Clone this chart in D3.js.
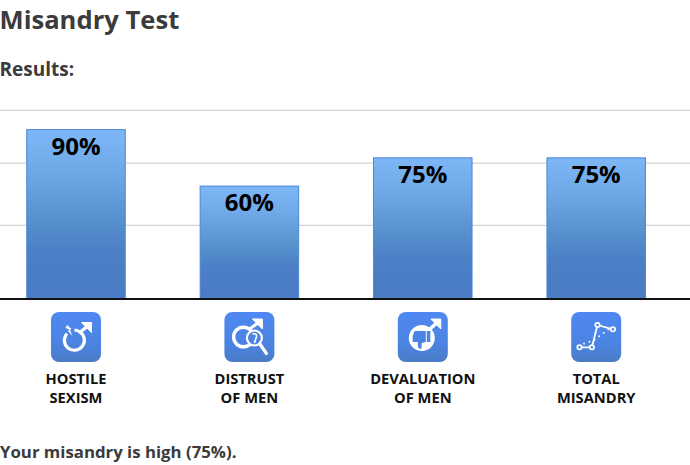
<!DOCTYPE html>
<html><head><meta charset="utf-8">
<script src="https://d3js.org/d3.v7.min.js"></script>
<style>html,body{margin:0;padding:0;background:#fff;overflow:hidden}svg{display:block}text{font-family:"Open Sans",sans-serif}</style>
</head><body><svg id="c" width="690" height="465"></svg>
<script>
const categories = ["hostile","distrust","devaluation","total"];
const values = [90,60,75,75];
const labelLine1 = ["HOSTILE","DISTRUST","DEVALUATION","TOTAL"];
const labelLine2 = ["SEXISM","OF MEN","OF MEN","MISANDRY"];
const gridValues = [100,72,39];
const titleText = "Misandry Test", subtitleText = "Results:", footerText = "Your misandry is high (75%).";

const svg = d3.select("#c");
const x = d3.scaleBand().domain(categories).range([-10.7,682.9]).paddingInner(0.432).paddingOuter(0.216);
const y = d3.scaleLinear().domain([0,100]).range([299,110.3]);
const yBar = d3.scaleLinear().domain([0,100]).range([299,110.8]);

const defs = svg.append("defs");
const g1 = defs.append("linearGradient").attr("id","bar").attr("x1",0).attr("y1",0).attr("x2",0).attr("y2",1);
[[0,"#7db7f7"],[.25,"#6fa8e6"],[.5,"#5a94cf"],[.72,"#4b7fc6"],[1,"#4a7bc4"]].forEach(s=>g1.append("stop").attr("offset",s[0]).attr("stop-color",s[1]));
const g2 = defs.append("linearGradient").attr("id","ico").attr("x1",0).attr("y1",0).attr("x2",0).attr("y2",1);
[[0,"#4f88f0"],[.6,"#4c84e4"],[1,"#4a7cc6"]].forEach(s=>g2.append("stop").attr("offset",s[0]).attr("stop-color",s[1]));

svg.append("text").attr("x",-0.5).attr("y",29).attr("font-size",25.6).attr("font-weight",700).attr("fill","#3b3b3b").text(titleText);
svg.append("text").attr("x",-0.5).attr("y",76).attr("font-size",19).attr("font-weight",700).attr("fill","#3b3b3b").text(subtitleText);
svg.append("text").attr("x",0).attr("y",458).attr("font-size",16.8).attr("font-weight",700).attr("fill","#3b3b3b").text(footerText);

svg.selectAll(".grid").data(gridValues).join("line").attr("class","grid")
  .attr("x1",0).attr("x2",690).attr("y1",d=>y(d)).attr("y2",d=>y(d))
  .attr("stroke","#d4d4d4").attr("stroke-width",1.2);

svg.selectAll(".bar").data(categories).join("rect").attr("class","bar")
  .attr("x",d=>x(d)).attr("width",x.bandwidth())
  .attr("y",(d,i)=>yBar(values[i])).attr("height",(d,i)=>yBar(0)-yBar(values[i]))
  .attr("fill","url(#bar)").attr("stroke","#4a86d8").attr("stroke-width",1);

svg.append("line").attr("x1",0).attr("x2",690).attr("y1",y(0)).attr("y2",y(0)).attr("stroke","#111").attr("stroke-width",2.2);

svg.selectAll(".val").data(categories).join("text").attr("class","val")
  .attr("x",d=>x(d)+x.bandwidth()/2).attr("y",(d,i)=>yBar(values[i])+25)
  .attr("text-anchor","middle").attr("font-size",24).attr("font-weight",700).attr("fill","#000")
  .text((d,i)=>values[i]+"%");

const cx = d=>x(d)+x.bandwidth()/2;
const icons = svg.selectAll(".icon").data(categories).join("g").attr("class","icon")
  .attr("transform",d=>`translate(${cx(d)},337)`);
icons.append("rect").attr("x",-25).attr("y",-25).attr("width",50).attr("height",50).attr("rx",8).attr("fill","url(#ico)");

function arrow(g,x0,y0,tx,ty,w){
  g.append("line").attr("x1",x0).attr("y1",y0).attr("x2",tx-3).attr("y2",ty+3).attr("stroke","#fff").attr("stroke-width",w);
  g.append("path").attr("d",`M${tx-10},${ty} H${tx} V${ty+10} Z`).attr("fill","#fff").attr("stroke","#fff").attr("stroke-width",1);
}
// hostile
{
  const g = icons.filter(d=>d==="hostile");
  g.append("path").attr("d","M-9,-3.5 A10,10 0 1 0 4,-5").attr("fill","none").attr("stroke","#fff").attr("stroke-width",3.2);
  g.append("path").attr("d","M-1.5,-7 A10,10 0 0 1 4,-5").attr("fill","none").attr("stroke","#fff").attr("stroke-width",3.2);
  arrow(g,3,-4,15.5,-14.5,3.4);
  g.append("path").attr("d","M-9,-12 L-4.5,-8 L-6,-7 L-3.5,-1 L-8,-6 L-6.5,-7.5 L-10.5,-9 Z").attr("fill","#fff");
}
// distrust
{
  const g = icons.filter(d=>d==="distrust");
  g.append("circle").attr("cx",-6).attr("cy",0).attr("r",9.8).attr("fill","none").attr("stroke","#fff").attr("stroke-width",3.4);
  arrow(g,0,-8,13,-18,3.2);
  g.append("circle").attr("cx",5).attr("cy",1).attr("r",7.5).attr("fill","#4c84e4").attr("stroke","#fff").attr("stroke-width",2.2);
  g.append("line").attr("x1",10.5).attr("y1",7).attr("x2",17).attr("y2",16.5).attr("stroke","#fff").attr("stroke-width",3.2).attr("stroke-linecap","round");
  g.append("path").attr("d","M3,-3 Q8,-4 7,0 L5,6").attr("fill","none").attr("stroke","#fff").attr("stroke-width",1.6);
}
// devaluation
{
  const g = icons.filter(d=>d==="devaluation");
  arrow(g,6,-7,18,-18,3.6);
  g.append("circle").attr("cx",-1).attr("cy",1).attr("r",13).attr("fill","#fff");
  g.append("path").attr("d","M-8,-6 H3 V5 L-1,6 L-1.5,12 Q-5,12 -5,8 L-5,5 H-10 Q-11,-2 -8,-6 Z M4,-6 H7.5 V5 H4 Z").attr("fill","#4c84e4");
}
// total
{
  const g = icons.filter(d=>d==="total");
  g.append("path").attr("d","M-13,7 L-2,3 L14,-9").attr("fill","none").attr("stroke","#fff").attr("stroke-width",1.7).attr("stroke-dasharray","1.7 4");
  g.append("path").attr("d","M-16.7,10.3 H-4.3 L1.3,-12 L16.7,-7.7").attr("fill","none").attr("stroke","#fff").attr("stroke-width",1.8);
  g.selectAll("circle").data([[-16.7,10.3],[-4.3,10.3],[1.3,-12],[16.7,-7.7]]).join("circle")
    .attr("cx",d=>d[0]).attr("cy",d=>d[1]).attr("r",2.2).attr("fill","#4c84e4").attr("stroke","#fff").attr("stroke-width",1.7);
}

svg.selectAll(".l1").data(categories).join("text").attr("class","l1").attr("x",cx).attr("y",384)
  .attr("text-anchor","middle").attr("font-size",14.7).attr("font-weight",700).attr("fill","#111").text((d,i)=>labelLine1[i]);
svg.selectAll(".l2").data(categories).join("text").attr("class","l2").attr("x",cx).attr("y",403)
  .attr("text-anchor","middle").attr("font-size",14.7).attr("font-weight",700).attr("fill","#111").text((d,i)=>labelLine2[i]);
</script></body></html>
